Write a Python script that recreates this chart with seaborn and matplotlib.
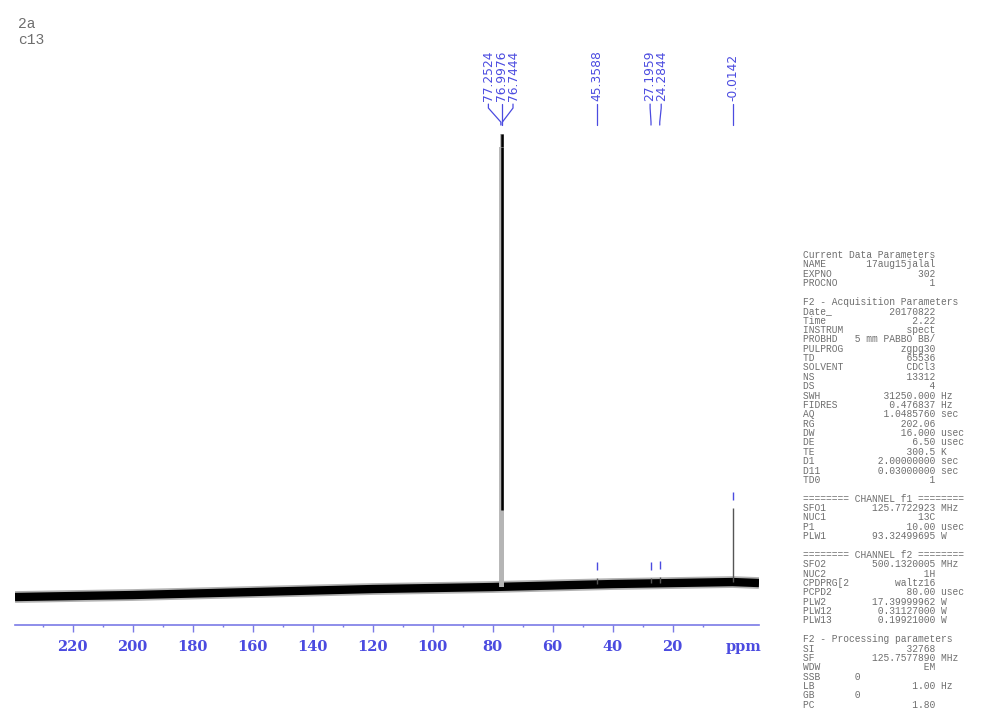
import numpy as np
import pandas as pd
import matplotlib
matplotlib.use("Agg")
import matplotlib.pyplot as plt
import seaborn as sns

sns.set_style("white")
plt.rcParams['font.family'] = ['DejaVu Sans']

# baseline of the spectrum (ppm, intensity)
base_ppm = [239.2, 220, 200, 180, 160, 140, 120, 100, 80, 60, 40, 20, 0, -8.8]
base_int = [28, 29, 30, 31.5, 33, 34.5, 36, 37, 38, 39.5, 41, 42, 43, 42]

# picked peaks
peak_ppm = [77.2524, 76.9976, 76.7444, 45.3588, 27.1959, 24.2844, -0.0142]
peak_int = [478, 491, 478, 47, 47, 48, 117]
peak_txt = ['77.2524', '76.9976', '76.7444', '45.3588', '27.1959', '24.2844', '-0.0142']
label_ppm = [81.4, 76.9976, 73.2, 45.3588, 27.5, 23.8, -0.0142]
marked = [False, False, False, True, True, True, True]

title_lines = ['2a', 'c13']

params = [
    ('Current Data Parameters', None, None),
    ('NAME', '17aug15jalal', ''),
    ('EXPNO', '302', ''),
    ('PROCNO', '1', ''),
    ('', None, None),
    ('F2 - Acquisition Parameters', None, None),
    ('Date_', '20170822', ''),
    ('Time', '2.22', ''),
    ('INSTRUM', 'spect', ''),
    ('PROBHD', '5 mm PABBO BB/', ''),
    ('PULPROG', 'zgpg30', ''),
    ('TD', '65536', ''),
    ('SOLVENT', 'CDCl3', ''),
    ('NS', '13312', ''),
    ('DS', '4', ''),
    ('SWH', '31250.000', 'Hz'),
    ('FIDRES', '0.476837', 'Hz'),
    ('AQ', '1.0485760', 'sec'),
    ('RG', '202.06', ''),
    ('DW', '16.000', 'usec'),
    ('DE', '6.50', 'usec'),
    ('TE', '300.5', 'K'),
    ('D1', '2.00000000', 'sec'),
    ('D11', '0.03000000', 'sec'),
    ('TD0', '1', ''),
    ('', None, None),
    ('======== CHANNEL f1 ========', None, None),
    ('SFO1', '125.7722923', 'MHz'),
    ('NUC1', '13C', ''),
    ('P1', '10.00', 'usec'),
    ('PLW1', '93.32499695', 'W'),
    ('', None, None),
    ('======== CHANNEL f2 ========', None, None),
    ('SFO2', '500.1320005', 'MHz'),
    ('NUC2', '1H', ''),
    ('CPDPRG[2', 'waltz16', ''),
    ('PCPD2', '80.00', 'usec'),
    ('PLW2', '17.39999962', 'W'),
    ('PLW12', '0.31127000', 'W'),
    ('PLW13', '0.19921000', 'W'),
    ('', None, None),
    ('F2 - Processing parameters', None, None),
    ('SI', '32768', ''),
    ('SF', '125.7577890', 'MHz'),
    ('WDW', 'EM', ''),
    ('SSB', '0', 'left'),
    ('LB', '1.00', 'Hz'),
    ('GB', '0', 'left'),
    ('PC', '1.80', ''),
]

blue = '#4b4be0'
grey = '#6e6e6e'

fig = plt.figure(figsize=(10, 7.22), dpi=100)
ax = fig.add_axes([0.015, 0.1343, 0.744, 0.8102])
ax.set_xlim(239.2, -8.8)
ax.set_ylim(0, 585)

# noise band of the baseline: soft outer fuzz plus dense core
base = pd.DataFrame({'ppm': base_ppm, 'int': base_int})
sns.lineplot(data=base, x='ppm', y='int', color='black', linewidth=8.5,
             alpha=0.3, solid_capstyle='butt', ax=ax)
sns.lineplot(data=base, x='ppm', y='int', color='black', linewidth=6,
             solid_capstyle='butt', ax=ax)

# peaks
b_at = np.interp(peak_ppm, base_ppm[::-1], base_int[::-1])
for p, h, b in zip(peak_ppm, peak_int, b_at):
    if h > 300:
        ax.vlines(p, b, h, color='#b5b5b5', linewidth=2.8)
        ax.vlines(p, 115, h, color='black', linewidth=1.8)
    else:
        ax.vlines(p, b, h, color='#555555', linewidth=1.0)

# peak-pick markers
for p, h, m in zip(peak_ppm, peak_int, marked):
    if m:
        ax.vlines(p, h + 8, h + 16, color=blue, linewidth=1.0)

# peak labels with connectors
for p, lp, t in zip(peak_ppm, label_ppm, peak_txt):
    ax.plot([lp, lp, p, p], [521, 517, 503, 500], color=blue, linewidth=0.9,
            clip_on=False)
    ax.text(lp, 524, t, rotation=90, ha='center', va='bottom', color=blue,
            fontsize=8.8, clip_on=False)

# axis
for s in ['top', 'left', 'right']:
    ax.spines[s].set_visible(False)
ax.spines['bottom'].set_color('#7a7ae6')
ax.spines['bottom'].set_linewidth(1.2)
ax.set_yticks([])
ax.set_xticks(range(20, 240, 20))
ax.set_xticks(range(10, 240, 20), minor=True)
ax.tick_params(axis='x', which='major', length=5, width=1, color='#7a7ae6',
               pad=6, labelsize=10.5, labelcolor=blue, direction='out', bottom=True)
ax.tick_params(axis='x', which='minor', length=1.6, width=1, color='#7a7ae6',
               direction='out', bottom=True)
for lab in ax.get_xticklabels():
    lab.set_family('DejaVu Serif')
    lab.set_weight('bold')
ax.set_xlabel('')
ax.set_ylabel('')
ax.text(-3.6, -15, 'ppm', ha='center', va='top', color=blue, fontsize=10.5,
        family='DejaVu Serif', weight='bold', clip_on=False)

# title lines
for i, t in enumerate(title_lines):
    fig.text(0.018, 1 - (24 + 16 * i) / 722, t, ha='left', va='center',
             color=grey, fontsize=10.5, family='Liberation Mono')

# parameter block
y0 = 255
for i, (name, val, unit) in enumerate(params):
    if val is None:
        line = name
    elif unit == 'left':
        line = f"{name:<9}{val}"
    else:
        line = f"{name:<8}{val:>15} {unit}"
    fig.text(0.803, 1 - (y0 + 9.37 * i) / 722, line, ha='left', va='center',
             color=grey, fontsize=6.9, family='Liberation Mono')

fig.savefig('out.png', dpi=100, facecolor='white')
